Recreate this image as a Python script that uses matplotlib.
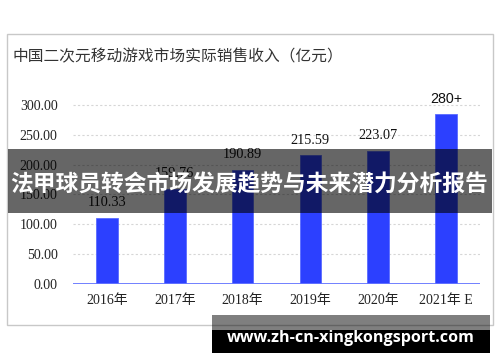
import matplotlib
matplotlib.use("Agg")
import matplotlib.pyplot as plt
from matplotlib.patches import Rectangle

years = ["2016年", "2017年", "2018年", "2019年", "2020年", "2021年 E"]
revenue = [110.33, 159.76, 190.89, 215.59, 223.07, 285.0]
value_labels = ["110.33", "159.76", "190.89", "215.59", "223.07", "280+"]
y_ticks = [0, 50, 100, 150, 200, 250, 300]

title = "中国二次元移动游戏市场实际销售收入（亿元）"
banner = "法甲球员转会市场发展趋势与未来潜力分析报告"
site = "www.zh-cn-xingkongsport.com"

serif = ["Liberation Serif", "Noto Sans CJK SC"]
cjk = ["Noto Sans CJK SC", "DejaVu Sans"]

W, H = 500, 362
fig = plt.figure(figsize=(W / 100, H / 100), dpi=100)


def fx(px):
    return px / W


def fy(py):
    return 1 - py / H


# outer frame
fig.add_artist(Rectangle((fx(7), fy(325)), fx(493) - fx(7), fy(34) - fy(325),
                         transform=fig.transFigure, fill=False,
                         edgecolor="#c8c8c8", linewidth=1, zorder=0.5))

ax = fig.add_axes([fx(73), fy(284), fx(480) - fx(73), fy(93) - fy(284)])
x = range(len(years))
ax.bar(x, revenue, width=0.32, color="#2c40ff", edgecolor="#5a6bff",
       linewidth=0.6, zorder=3)
ax.set_xlim(-0.5, len(years) - 0.5)
ax.set_ylim(0, 320)
ax.set_yticks(y_ticks)
ax.set_yticklabels([f"{v:.2f}" for v in y_ticks], fontfamily=serif,
                   fontsize=10, color="#222222")
ax.set_xticks(list(x))
ax.set_xticklabels(years, fontfamily=serif, fontsize=10, color="#222222")
ax.tick_params(axis="y", length=0, pad=11)
ax.tick_params(axis="x", length=0, pad=7)
for s in ax.spines.values():
    s.set_visible(False)
for v in y_ticks[1:]:
    ax.axhline(v, color="#d6d6d6", linewidth=0.8, linestyle=(0, (2, 2)), zorder=1)
ax.axhline(0, color="#6676ff", linewidth=1.3, zorder=4)

for i, (v, lab) in enumerate(zip(revenue, value_labels)):
    fam = ["Liberation Sans"] if lab.endswith("+") else serif
    ax.annotate(lab, (i, v), xytext=(0, 11), textcoords="offset points",
                ha="center", va="center", fontfamily=fam, fontsize=10.3,
                color="#111111")

fig.text(fx(12), fy(57), title, fontfamily=cjk, fontsize=11.3,
         color="#333333", va="center", ha="left")

# dark overlay banner
fig.add_artist(Rectangle((fx(8), fy(213)), fx(492) - fx(8), fy(149) - fy(213),
                         transform=fig.transFigure, facecolor="black",
                         alpha=0.6, edgecolor="none", zorder=5))
fig.text(fx(249), fy(184), banner, fontfamily=cjk, fontsize=16.4,
         fontweight="bold", color="white", ha="center", va="center", zorder=6)

# site banner
fig.add_artist(Rectangle((fx(212), fy(330)), fx(490) - fx(212), fy(315) - fy(330),
                         transform=fig.transFigure, facecolor="black",
                         alpha=0.5, edgecolor="none", zorder=5))
fig.add_artist(Rectangle((fx(212), fy(353)), fx(490) - fx(212), fy(330) - fy(353),
                         transform=fig.transFigure, facecolor="black",
                         edgecolor="none", zorder=5))
fig.text(fx(351), fy(338), site, fontfamily=["Open Sans", "DejaVu Sans"],
         fontsize=11.6, fontweight="bold", color="white", ha="center",
         va="center", zorder=6)

fig.savefig("out.png", dpi=100)
